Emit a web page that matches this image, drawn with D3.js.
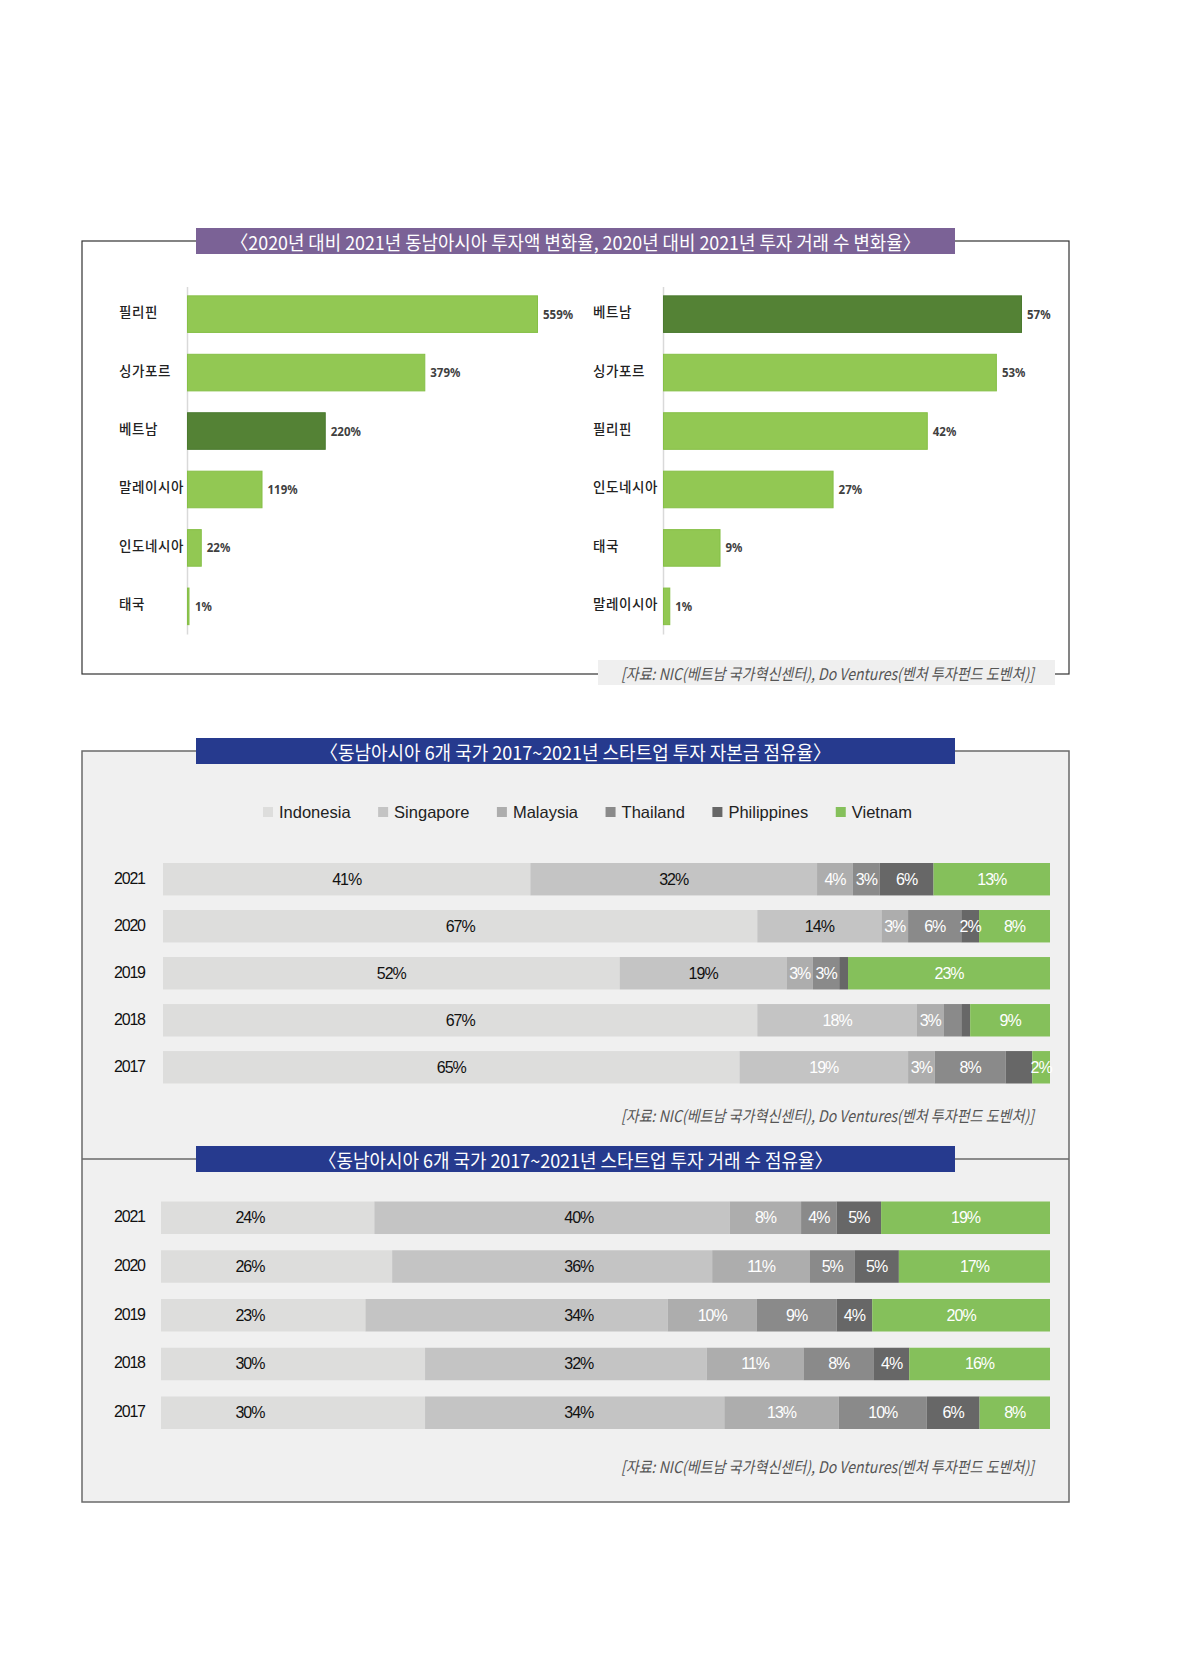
<!DOCTYPE html>
<html>
<head>
<meta charset="utf-8">
<script src="https://cdn.jsdelivr.net/npm/d3@7"></script>
<style>
  body { margin: 0; background: #fff; }
  svg { display: block; }
</style>
</head>
<body>
<div id="chart"></div>
<script>
// top panel: growth 2020 -> 2021 (investment amount / number of deals)
const amountCountries = ['필리핀', '싱가포르', '베트남', '말레이시아', '인도네시아', '태국'];
const amountGrowth = [559, 379, 220, 119, 22, 1];
const dealCountries = ['베트남', '싱가포르', '필리핀', '인도네시아', '태국', '말레이시아'];
const dealGrowth = [57, 53, 42, 27, 9, 1];
const highlight = '베트남';

// stacked shares, one value per year
const years = ['2021', '2020', '2019', '2018', '2017'];
const countries = ['Indonesia', 'Singapore', 'Malaysia', 'Thailand', 'Philippines', 'Vietnam'];

const capitalIndonesia = [41, 67, 52, 67, 65];
const capitalSingapore = [32, 14, 19, 18, 19];
const capitalMalaysia = [4, 3, 3, 3, 3];
const capitalThailand = [3, 6, 3, 2, 8];
const capitalPhilippines = [6, 2, 1, 1, 3];
const capitalVietnam = [13, 8, 23, 9, 2];
const capitalHidden = ['2019-Philippines', '2018-Thailand', '2018-Philippines', '2017-Philippines'];

const dealsIndonesia = [24, 26, 23, 30, 30];
const dealsSingapore = [40, 36, 34, 32, 34];
const dealsMalaysia = [8, 11, 10, 11, 13];
const dealsThailand = [4, 5, 9, 8, 10];
const dealsPhilippines = [5, 5, 4, 4, 6];
const dealsVietnam = [19, 17, 20, 16, 8];

const title1 = '〈2020년 대비 2021년 동남아시아 투자액 변화율, 2020년 대비 2021년 투자 거래 수 변화율〉';
const title2 = '〈동남아시아 6개 국가 2017~2021년 스타트업 투자 자본금 점유율〉';
const title3 = '〈동남아시아 6개 국가 2017~2021년 스타트업 투자 거래 수 점유율〉';
const sourceText = '[자료: NIC(베트남 국가혁신센터), Do Ventures(벤처 투자펀드 도벤처)]';

const colors = {
  Indonesia: '#dddddc', Singapore: '#c4c4c4', Malaysia: '#adadad',
  Thailand: '#8a8a8a', Philippines: '#676767', Vietnam: '#85c05b'
};
const KR = '"Noto Sans CJK KR", sans-serif';
const NARROW = '"Liberation Sans Narrow", "Liberation Sans", Arial, sans-serif';

const svg = d3.select('#chart').append('svg')
    .attr('width', 1181)
    .attr('height', 1654);

// ---------- frames ----------
svg.append('rect')
    .attr('x', 82).attr('y', 241).attr('width', 987).attr('height', 433)
    .attr('fill', '#fff').attr('stroke', '#333').attr('stroke-width', 1.2);

svg.append('rect')
    .attr('x', 82).attr('y', 751).attr('width', 987).attr('height', 751)
    .attr('fill', '#f0f0f0').attr('stroke', '#6a6a6a').attr('stroke-width', 1.5);
svg.append('line')
    .attr('x1', 82).attr('x2', 1069).attr('y1', 1159).attr('y2', 1159)
    .attr('stroke', '#6a6a6a').attr('stroke-width', 1.5);

function titleBox(text, y, fill, len) {
  svg.append('rect')
      .attr('x', 196).attr('y', y).attr('width', 759).attr('height', 26)
      .attr('fill', fill);
  svg.append('text')
      .attr('x', 575.5).attr('y', y + 13.5)
      .attr('text-anchor', 'middle')
      .attr('dominant-baseline', 'central')
      .attr('textLength', len)
      .attr('lengthAdjust', 'spacingAndGlyphs')
      .style('font-family', KR).style('font-size', '19px')
      .attr('fill', '#fff')
      .text(text);
}

function source(cy) {
  svg.append('text')
      .attr('x', 1034).attr('y', cy)
      .attr('text-anchor', 'end')
      .attr('dominant-baseline', 'central')
      .attr('textLength', 413)
      .attr('lengthAdjust', 'spacingAndGlyphs')
      .style('font-family', KR).style('font-size', '16px').style('font-style', 'italic')
      .attr('fill', '#555')
      .text(sourceText);
}

// ---------- top panel ----------
titleBox(title1, 228, '#7b6296', 690);

function growthChart(cats, vals, axisX, barMax, labelX) {
  const y = d3.scaleBand().domain(cats)
      .range([286.5, 634]).paddingInner(0.374).paddingOuter(0.16);
  const x = d3.scaleLinear().domain([0, d3.max(vals)]).range([axisX, axisX + barMax]);
  const g = svg.append('g');

  g.append('g')
      .attr('transform', `translate(${axisX},0)`)
      .call(d3.axisLeft(y).tickSize(0).tickFormat(''))
      .call(a => a.select('.domain').attr('stroke', '#d9d9d9').attr('stroke-width', 1.5));

  const rows = cats.map((c, i) => ({ c, v: vals[i] }));

  g.selectAll('rect.bar').data(rows).join('rect')
      .attr('class', 'bar')
      .attr('x', x(0) + 0.5)
      .attr('y', d => y(d.c))
      .attr('width', d => Math.max(1.5, x(d.v) - x(0)))
      .attr('height', y.bandwidth())
      .attr('fill', d => d.c === highlight ? '#548235' : '#92c853')
      .attr('stroke', d => d.c === highlight ? '#4b7a2f' : '#86bf47')
      .attr('stroke-width', 1);

  g.selectAll('text.cat').data(rows).join('text')
      .attr('class', 'cat')
      .attr('x', labelX)
      .attr('y', d => y(d.c) + y.bandwidth() / 2 - 3)
      .attr('dominant-baseline', 'central')
      .style('font-family', KR).style('font-size', '13.5px').style('font-weight', 500)
      .style('letter-spacing', '0.6px')
      .attr('fill', '#222')
      .text(d => d.c);

  g.selectAll('text.val').data(rows).join('text')
      .attr('class', 'val')
      .attr('x', d => Math.max(x(d.v), x(0) + 2) + 6)
      .attr('y', d => y(d.c) + y.bandwidth() / 2)
      .attr('dominant-baseline', 'central')
      .style('font-family', '"Noto Sans", sans-serif').style('font-size', '11.5px').style('font-weight', 700)
      .attr('fill', '#404040')
      .text(d => d.v + '%');
}

growthChart(amountCountries, amountGrowth, 187, 350, 119);
growthChart(dealCountries, dealGrowth, 663, 358, 593);

svg.append('rect')
    .attr('x', 598).attr('y', 660).attr('width', 457).attr('height', 25)
    .attr('fill', '#efefef');
source(673);

// ---------- stacked share charts ----------
titleBox(title2, 738, '#263a8e', 511);
titleBox(title3, 1146, '#263a8e', 514);

// legend
const legend = svg.append('g').attr('transform', 'translate(0,812)');
const items = legend.selectAll('g').data(countries).join('g');
items.append('rect')
    .attr('y', -5).attr('width', 10).attr('height', 10)
    .attr('fill', d => colors[d]);
items.append('text')
    .attr('x', 16)
    .attr('dominant-baseline', 'central')
    .style('font-family', '"Liberation Sans", Arial, sans-serif').style('font-size', '16.5px')
    .attr('fill', '#222')
    .text(d => d);
const widths = items.nodes().map(n => 16 + n.querySelector('text').getComputedTextLength());
const legendStart = 263, legendEnd = 912;
const gap = (legendEnd - legendStart - d3.sum(widths)) / (countries.length - 1);
let cursor = legendStart;
items.attr('transform', (d, i) => {
  const t = `translate(${cursor},0)`;
  cursor += widths[i] + gap;
  return t;
});

function stackChart(series, yRange, xRange, opts) {
  const rows = years.map((yr, i) => {
    const r = { year: yr };
    countries.forEach((c, k) => { r[c] = series[k][i]; });
    return r;
  });
  const stacked = d3.stack().keys(countries).offset(d3.stackOffsetExpand)(rows);

  const y = d3.scaleBand().domain(years).range(yRange).paddingInner(opts.pad).paddingOuter(0);
  const x = d3.scaleLinear().domain([0, 1]).range(xRange);
  const g = svg.append('g');

  const layers = g.selectAll('g.layer').data(stacked).join('g')
      .attr('class', 'layer')
      .attr('fill', d => colors[d.key]);

  layers.selectAll('rect').data(d => d).join('rect')
      .attr('x', d => x(d[0]))
      .attr('y', d => y(d.data.year))
      .attr('width', d => x(d[1]) - x(d[0]))
      .attr('height', y.bandwidth());

  const labels = [];
  stacked.forEach((layer, k) => {
    layer.forEach(d => {
      const key = layer.key;
      if (opts.hidden.includes(d.data.year + '-' + key)) return;
      const at = opts.anchor[key];
      labels.push({
        x: at !== undefined ? x(at) : (x(d[0]) + x(d[1])) / 2,
        y: y(d.data.year) + y.bandwidth() / 2,
        text: d.data[key] + '%',
        dark: k < 2 && !(k === 1 && opts.lightSingapore.includes(d.data.year))
      });
    });
  });

  g.selectAll('text.lbl').data(labels).join('text')
      .attr('class', 'lbl')
      .attr('x', d => d.x).attr('y', d => d.y)
      .attr('text-anchor', 'middle')
      .attr('dominant-baseline', 'central')
      .style('font-family', NARROW).style('font-size', '16px')
      .style('letter-spacing', '-1px')
      .attr('fill', d => d.dark ? '#111' : '#fff')
      .text(d => d.text);

  g.selectAll('text.year').data(years).join('text')
      .attr('class', 'year')
      .attr('x', 114)
      .attr('y', d => y(d) + y.bandwidth() / 2 - 1)
      .attr('dominant-baseline', 'central')
      .style('font-family', NARROW).style('font-size', '16px')
      .style('letter-spacing', '-1.2px')
      .attr('fill', '#111')
      .text(d => d);
}

stackChart(
  [capitalIndonesia, capitalSingapore, capitalMalaysia, capitalThailand, capitalPhilippines, capitalVietnam],
  [863, 1083.5], [163, 1050],
  { pad: 0.31, hidden: capitalHidden, anchor: {}, lightSingapore: ['2018', '2017'] }
);
source(1115);

stackChart(
  [dealsIndonesia, dealsSingapore, dealsMalaysia, dealsThailand, dealsPhilippines, dealsVietnam],
  [1201.5, 1429], [161, 1050],
  { pad: 0.333, hidden: [], anchor: { Indonesia: 0.10, Singapore: 0.47 }, lightSingapore: [] }
);
source(1466);
</script>
</body>
</html>
